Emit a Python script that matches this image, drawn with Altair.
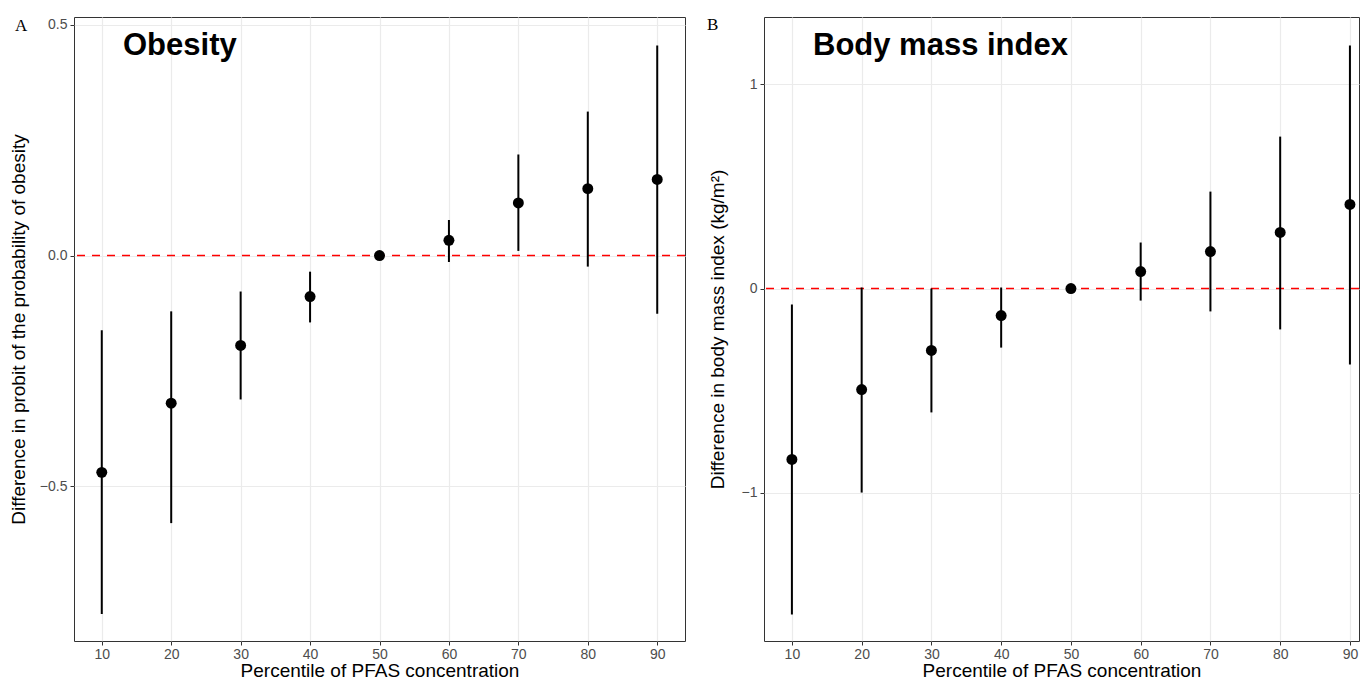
import altair as alt
import pandas as pd

pct = [10, 20, 30, 40, 50, 60, 70, 80, 90]

ob_est = [-0.470, -0.320, -0.195, -0.089, 0.0, 0.033, 0.114, 0.145, 0.165]
ob_lo = [-0.777, -0.580, -0.312, -0.145, 0.0, -0.014, 0.010, -0.024, -0.126]
ob_hi = [-0.162, -0.121, -0.078, -0.035, 0.0, 0.077, 0.219, 0.312, 0.455]

bmi_est = [-0.836, -0.494, -0.303, -0.132, 0.0, 0.083, 0.181, 0.274, 0.411]
bmi_lo = [-1.594, -0.998, -0.606, -0.289, 0.0, -0.059, -0.112, -0.200, -0.372]
bmi_hi = [-0.078, 0.005, 0.0, 0.005, 0.0, 0.225, 0.474, 0.743, 1.188]

x_ticks = [10, 20, 30, 40, 50, 60, 70, 80, 90]
FONT = "Liberation Sans"
H = 624


def panel(est, lo, hi, ydom, xdom, width, yticks, yfmt, ytitle, head, label, lx, ly, ytpad):
    df = pd.DataFrame({"pct": pct, "est": est, "lo": lo, "hi": hi})
    xs = alt.Scale(domain=xdom, nice=False, zero=False)
    ys = alt.Scale(domain=ydom, nice=False, zero=False)
    xaxis = alt.Axis(values=x_ticks, format="d", labelPadding=2, titlePadding=0)
    yaxis = alt.Axis(values=yticks, format=yfmt, labelPadding=3, titlePadding=ytpad,
                     labelExpr="replace(datum.label, '-', '\u2212')")
    xt = "Percentile of PFAS concentration"
    base = alt.Chart(df)
    hline = alt.Chart(pd.DataFrame({"z": [0]})).mark_rule(
        color="#ff0000", strokeDash=[8, 7], strokeWidth=1.6
    ).encode(y=alt.Y("z:Q", scale=ys, axis=yaxis, title=ytitle))
    rules = base.mark_rule(color="black", strokeWidth=2).encode(
        x=alt.X("pct:Q", scale=xs, axis=xaxis, title=xt),
        y=alt.Y("lo:Q", scale=ys, axis=yaxis, title=ytitle),
        y2="hi:Q",
    )
    pts = base.mark_circle(color="black", opacity=1, size=120).encode(
        x=alt.X("pct:Q", scale=xs, axis=xaxis, title=xt),
        y=alt.Y("est:Q", scale=ys, axis=yaxis, title=ytitle),
    )
    one = pd.DataFrame({"a": [0]})
    htext = alt.Chart(one).mark_text(
        text=head, font=FONT, fontSize=31, fontWeight="bold",
        align="left", baseline="alphabetic", color="black"
    ).encode(x=alt.value(49), y=alt.value(38))
    ltext = alt.Chart(one).mark_text(
        text=label, font="Liberation Serif", fontSize=17,
        align="left", baseline="alphabetic", color="black"
    ).encode(x=alt.value(lx), y=alt.value(ly))
    return alt.layer(hline, rules, pts, htext, ltext).properties(width=width, height=H)


pA = panel(ob_est, ob_lo, ob_hi, [-0.8355, 0.517], [6, 94], 611,
           [-0.5, 0.0, 0.5], ".1f",
           "Difference in probit of the probability of obesity", "Obesity", "A", -59, 14, 11)
pB = panel(bmi_est, bmi_lo, bmi_hi, [-1.724, 1.328], [6, 91.3], 595,
           [-1, 0, 1], "d",
           "Difference in body mass index (kg/m\u00b2)", "Body mass index", "B", -57, 13, 14)

chart = alt.hconcat(pA, pB, spacing=19).properties(
    padding={"left": 0, "top": 7, "right": 0, "bottom": 0}
).configure_view(
    stroke="#333333", strokeWidth=1
).configure_axis(
    grid=True, gridColor="#ebebeb", gridWidth=1.2, domain=False,
    tickColor="#333333", tickSize=4, tickWidth=1,
    labelColor="#4d4d4d", labelFont=FONT, labelFontSize=14,
    titleFont=FONT, titleFontSize=19, titleColor="black", titleFontWeight="normal",
)

chart.save("out.html", embed_options={"renderer": "svg", "actions": False})
